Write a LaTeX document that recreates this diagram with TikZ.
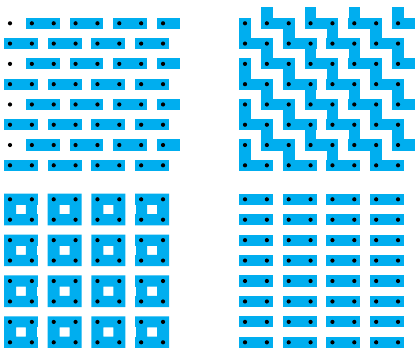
\documentclass[tikz,border=0pt]{standalone}
\definecolor{tileblue}{RGB}{0,174,239}
\tikzset{
  tile/.style={fill=tileblue},
  hole/.style={fill=white},
  pin/.style={fill=black},
}
\begin{document}
\begin{tikzpicture}[x=1pt,y=-1pt]
\useasboundingbox (0,0) rectangle (415,348);
\def\sx{21.86}
\def\ex{6}
\def\ey{5.6}
\def\ew{5.8}
% ---------- top-left ----------
\def\xo{10}\def\yo{23.3}\def\sy{20.29}
\foreach \j in {0,2,4,6}{
  \foreach \i in {1,3,5}{
    \fill[tile] ({\xo+\sx*\i-\ex},{\yo+\sy*\j-\ey}) rectangle ({\xo+\sx*(\i+1)+\ex},{\yo+\sy*\j+\ey});
  }
  \fill[tile] ({\xo+\sx*7-\ex},{\yo+\sy*\j-\ey}) rectangle ({\xo+\sx*7+17},{\yo+\sy*\j+\ey});
}
\foreach \j in {1,3,5,7}{
  \foreach \i in {0,2,4,6}{
    \fill[tile] ({\xo+\sx*\i-\ex},{\yo+\sy*\j-\ey}) rectangle ({\xo+\sx*(\i+1)+\ex},{\yo+\sy*\j+\ey});
  }
}
\foreach \j in {0,...,7}{\foreach \i in {0,...,7}{
  \fill[pin] ({\xo+\sx*\i},{\yo+\sy*\j}) circle (2.1);
}}
% ---------- top-right ----------
\def\xo{245}
\foreach \j in {0,2,4,6}{
  \foreach \i in {1,3,5}{
    \fill[tile] ({\xo+\sx*\i-\ex},{\yo+\sy*\j-\ey}) rectangle ({\xo+\sx*(\i+1)+\ex},{\yo+\sy*\j+\ey});
  }
  \fill[tile] ({\xo+\sx*7-\ex},{\yo+\sy*\j-\ey}) rectangle ({\xo+\sx*7+17},{\yo+\sy*\j+\ey});
  \foreach \i in {0,2,4,6}{
    \fill[tile] ({\xo+\sx*\i-\ew},{\yo+\sy*\j-\ey}) rectangle ({\xo+\sx*\i+\ew},{\yo+\sy*(\j+1)+\ey});
  }
}
\foreach \j in {1,3,5,7}{
  \foreach \i in {0,2,4,6}{
    \fill[tile] ({\xo+\sx*\i-\ex},{\yo+\sy*\j-\ey}) rectangle ({\xo+\sx*(\i+1)+\ex},{\yo+\sy*\j+\ey});
  }
}
\foreach \j in {1,3,5}{
  \foreach \i in {1,3,5,7}{
    \fill[tile] ({\xo+\sx*\i-\ew},{\yo+\sy*\j-\ey}) rectangle ({\xo+\sx*\i+\ew},{\yo+\sy*(\j+1)+\ey});
  }
}
\foreach \i in {1,3,5,7}{
  \fill[tile] ({\xo+\sx*\i-\ew},{\yo-16.6}) rectangle ({\xo+\sx*\i+\ew},{\yo});
}
\foreach \j in {0,...,7}{\foreach \i in {0,...,7}{
  \fill[pin] ({\xo+\sx*\i},{\yo+\sy*\j}) circle (2.1);
}}
% ---------- bottom-left ----------
\def\xo{10}\def\yo{199.3}\def\sy{20.43}
\foreach \j in {0,2,4,6}{
  \foreach \i in {0,2,4,6}{
    \fill[tile,even odd rule]
      ({\xo+\sx*\i-\ex},{\yo+\sy*\j-\ey}) rectangle ({\xo+\sx*(\i+1)+\ex},{\yo+\sy*(\j+1)+\ey})
      ({\xo+\sx*\i+\ex},{\yo+\sy*\j+\ey}) rectangle ({\xo+\sx*(\i+1)-\ex},{\yo+\sy*(\j+1)-\ey});
  }
  \fill[hole] ({\xo+\sx*1+\ex-1.3},{\yo+\sy*\j+\ey}) rectangle ({\xo+\sx*1+\ex},{\yo+\sy*(\j+1)-\ey});
  \fill[hole] ({\xo+\sx*6-\ex},{\yo+\sy*\j+\ey}) rectangle ({\xo+\sx*6-\ex+1.3},{\yo+\sy*(\j+1)-\ey});
}
\foreach \j in {0,...,7}{\foreach \i in {0,...,7}{
  \fill[pin] ({\xo+\sx*\i},{\yo+\sy*\j}) circle (2.1);
}}
% ---------- bottom-right ----------
\def\xo{245}
\foreach \j in {0,...,7}{
  \foreach \i in {0,2,4,6}{
    \fill[tile] ({\xo+\sx*\i-\ex},{\yo+\sy*\j-\ey}) rectangle ({\xo+\sx*(\i+1)+\ex},{\yo+\sy*\j+\ey});
  }
}
\foreach \j in {0,...,7}{\foreach \i in {0,...,7}{
  \fill[pin] ({\xo+\sx*\i},{\yo+\sy*\j}) circle (2.1);
}}
\end{tikzpicture}
\end{document}
